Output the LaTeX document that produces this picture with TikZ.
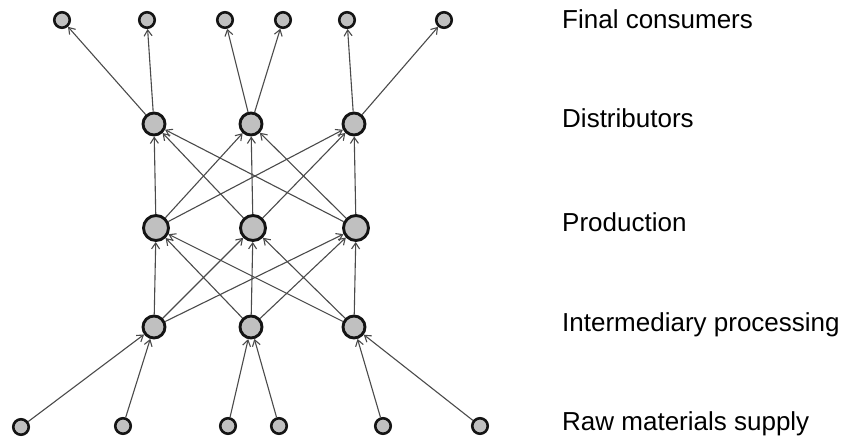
\documentclass[tikz,border=0pt]{standalone}
\usepackage{fontspec}
\setmainfont{Liberation Sans}
\usetikzlibrary{arrows.meta}
\definecolor{nodefill}{HTML}{C0C0C0}
\definecolor{nodeedge}{HTML}{141414}
\definecolor{edgecol}{HTML}{4A4A4A}
\begin{document}
\begin{tikzpicture}[x=1pt,y=-1pt,
  dot/.style={circle,draw=nodeedge,fill=nodefill,line width=2.9pt,inner sep=0pt},
  small/.style={dot,line width=2.6pt,minimum size=15.5pt},
  mid/.style={dot,minimum size=22pt},
  big/.style={dot,minimum size=25pt},
  flow/.style={draw=edgecol,line width=1.1pt,-{Straight Barb[length=6pt,width=8pt]}},
  lab/.style={anchor=base west,font=\fontsize{26}{30}\selectfont,inner sep=0pt}]
\useasboundingbox (0,0) rectangle (858,443);
% final consumers
\node[small] (c1) at (62,20) {};
\node[small] (c2) at (147,20) {};
\node[small] (c3) at (225,20) {};
\node[small] (c4) at (283,20) {};
\node[small] (c5) at (347,20) {};
\node[small] (c6) at (444,20) {};
% distributors
\node[mid] (d1) at (154,124) {};
\node[mid] (d2) at (251,124) {};
\node[mid] (d3) at (354,124) {};
% production
\node[big] (p1) at (156,228) {};
\node[big] (p2) at (253,228) {};
\node[big] (p3) at (356,228) {};
% intermediary
\node[mid] (i1) at (154,327) {};
\node[mid] (i2) at (251,327) {};
\node[mid] (i3) at (354,327) {};
% raw
\node[small] (r1) at (21,427) {};
\node[small] (r2) at (123,426) {};
\node[small] (r3) at (228,426) {};
\node[small] (r4) at (279,426) {};
\node[small] (r5) at (383,426) {};
\node[small] (r6) at (480,426) {};
% edges
\draw[flow] (d1) -- (c1);
\draw[flow] (d1) -- (c2);
\draw[flow] (d2) -- (c3);
\draw[flow] (d2) -- (c4);
\draw[flow] (d3) -- (c5);
\draw[flow] (d3) -- (c6);
\foreach \a in {1,2,3}{\foreach \b in {1,2,3}{
  \draw[flow] (p\a) -- (d\b);
  \draw[flow] (i\a) -- (p\b);
}}
\draw[flow] (r1) -- (i1);
\draw[flow] (r2) -- (i1);
\draw[flow] (r3) -- (i2);
\draw[flow] (r4) -- (i2);
\draw[flow] (r5) -- (i3);
\draw[flow] (r6) -- (i3);
% labels
\node[lab] (t1) at (562,29) {Final consumers};
\node[lab] (t2) at (562,128) {Distributors};
\node[lab] (t3) at (562,232) {Production};
\node[lab] (t4) at (562,331) {Intermediary processing};
\node[lab] (t5) at (562,430) {Raw materials supply};
\end{tikzpicture}
\end{document}
